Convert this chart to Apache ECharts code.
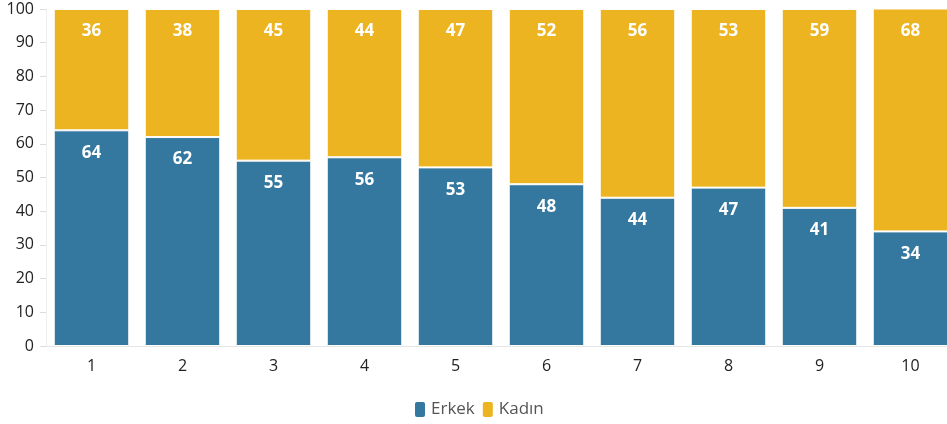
<!DOCTYPE html>
<html>
<head>
<meta charset="utf-8">
<script src="https://cdn.jsdelivr.net/npm/echarts@6/dist/echarts.min.js"></script>
<style>
  html, body { margin: 0; padding: 0; background: #fff; }
  #chart { width: 947px; height: 424px; }
</style>
</head>
<body>
<div id="chart"></div>
<script>
const categories = ['1', '2', '3', '4', '5', '6', '7', '8', '9', '10']
const erkek = [64, 62, 55, 56, 53, 48, 44, 47, 41, 34]
const kadin = [36, 38, 45, 44, 47, 52, 56, 53, 59, 68]

const chart = echarts.init(document.getElementById('chart'))

const labelStyle = {
  show: true,
  position: 'insideTop',
  distance: 14,
  color: '#fff',
  fontFamily: 'Open Sans',
  fontWeight: 'bold',
  fontSize: 17
}

chart.setOption({
  animation: false,
  textStyle: { fontFamily: 'Open Sans' },
  grid: { left: 46, width: 910, top: 9, bottom: 78, containLabel: false, outerBoundsMode: 'none' },
  legend: {
    bottom: 0,
    left: 408,
    icon: 'roundRect',
    itemWidth: 12,
    itemHeight: 17,
    itemGap: 6,
    textStyle: { color: '#555', fontSize: 17, fontFamily: 'Open Sans' },
    data: ['Erkek', 'Kadın']
  },
  xAxis: {
    type: 'category',
    data: categories,
    axisLine: { lineStyle: { color: '#e6e6e6' } },
    axisTick: { alignWithLabel: true, lineStyle: { color: '#ddd' } },
    axisLabel: { color: '#222', fontSize: 16, margin: 12 }
  },
  yAxis: {
    type: 'value',
    min: 0,
    max: 100,
    interval: 10,
    axisLine: { show: true, lineStyle: { color: '#eee' } },
    axisTick: { show: true, length: 6, lineStyle: { color: '#ddd' } },
    splitLine: { show: false },
    axisLabel: { color: '#222', fontSize: 16, margin: 12 }
  },
  series: [
    {
      name: 'Erkek',
      type: 'bar',
      stack: 'total',
      data: erkek,
      barCategoryGap: '17%',
      itemStyle: { color: '#34779f', borderColor: '#fff', borderWidth: 1 },
      label: labelStyle
    },
    {
      name: 'Kadın',
      type: 'bar',
      stack: 'total',
      data: kadin,
      itemStyle: { color: '#ecb420', borderColor: '#fff', borderWidth: 1 },
      label: labelStyle
    }
  ]
})
</script>
</body>
</html>
